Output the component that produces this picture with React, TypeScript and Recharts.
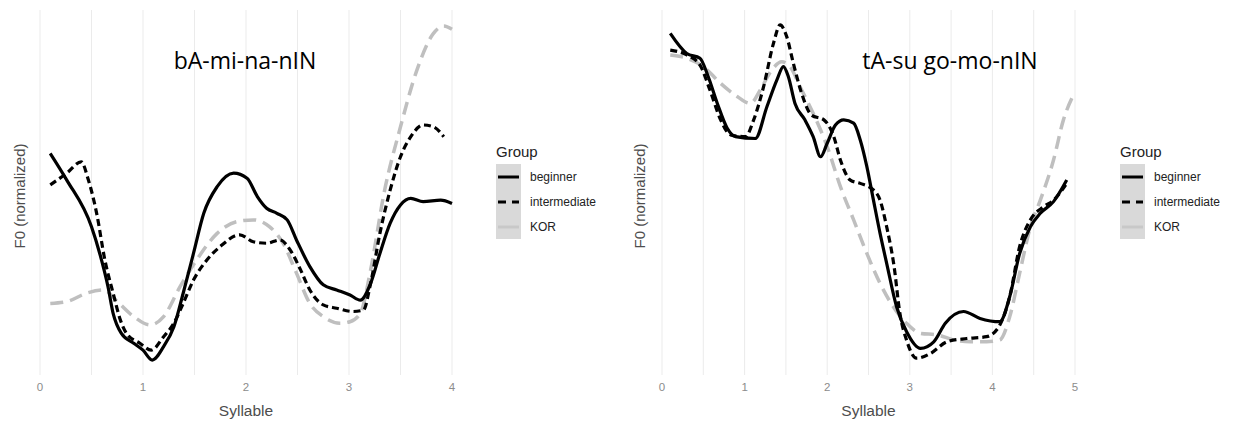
import React from 'react';
import { LineChart, Line, XAxis, YAxis, ReferenceLine } from 'recharts';

// F0 contours: [syllable position, normalized F0 (0-100 of panel height)]
const leftBeginner = [
  [0.1, 60.7], [0.26, 53.4], [0.5, 40.6], [0.58, 33.3], [0.66, 24.2], [0.71, 16.9], [0.79, 11.4],
  [0.91, 8.7], [1.0, 6.8], [1.09, 4.1], [1.2, 7.8], [1.3, 13.2], [1.39, 22.4], [1.49, 33.3],
  [1.59, 44.3], [1.72, 51.6], [1.88, 55.3], [2.01, 53.9], [2.11, 48.9], [2.2, 45.7], [2.3, 44.3],
  [2.4, 42.5], [2.49, 37.0], [2.62, 29.7], [2.75, 24.7], [2.88, 23.3], [3.01, 21.9], [3.11, 20.5],
  [3.21, 25.1], [3.3, 33.3], [3.4, 41.6], [3.5, 46.6], [3.6, 48.4], [3.72, 47.5], [3.89, 47.9], [4.0, 47.0],
];
const leftIntermediate = [
  [0.1, 52.1], [0.26, 55.3], [0.4, 58.4], [0.47, 53.4], [0.55, 44.3], [0.63, 31.5], [0.71, 22.4],
  [0.78, 15.1], [0.84, 11.4], [0.97, 8.7], [1.08, 6.8], [1.2, 10.5], [1.3, 14.2], [1.39, 19.6],
  [1.49, 26.0], [1.62, 31.5], [1.75, 35.2], [1.94, 38.4], [2.07, 36.5], [2.2, 36.1], [2.33, 37.0],
  [2.43, 34.2], [2.53, 28.8], [2.62, 23.3], [2.75, 19.2], [2.88, 18.3], [3.04, 17.4], [3.14, 17.8],
  [3.21, 25.1], [3.3, 38.8], [3.4, 50.7], [3.5, 59.8], [3.6, 65.3], [3.72, 68.5], [3.82, 68.0], [3.92, 65.3],
];
const leftKor = [
  [0.1, 19.6], [0.26, 20.1], [0.45, 22.4], [0.62, 23.3], [0.75, 20.1], [0.91, 16.0], [1.07, 13.7],
  [1.2, 16.0], [1.36, 24.2], [1.52, 31.5], [1.72, 38.8], [1.91, 42.0], [2.07, 42.5], [2.23, 40.6],
  [2.36, 36.1], [2.49, 27.9], [2.62, 19.6], [2.75, 16.0], [2.91, 14.2], [3.01, 14.6], [3.11, 16.9],
  [3.21, 28.8], [3.34, 49.8], [3.5, 68.0], [3.66, 83.6], [3.82, 93.6], [3.92, 95.6], [4.0, 94.7],
];

const rightBeginner = [
  [0.1, 93.6], [0.3, 88.1], [0.46, 86.8], [0.56, 81.7], [0.67, 74.4], [0.79, 67.6], [0.89, 65.3],
  [1.13, 64.8], [1.27, 73.5], [1.39, 80.8], [1.47, 84.5], [1.53, 81.7], [1.61, 74.4], [1.73, 69.9],
  [1.83, 65.3], [1.92, 59.8], [2.0, 63.5], [2.1, 68.5], [2.2, 69.9], [2.32, 69.0], [2.4, 64.4],
  [2.48, 57.1], [2.56, 47.9], [2.64, 38.8], [2.72, 30.6], [2.84, 18.7], [2.96, 11.9], [3.13, 7.3],
  [3.29, 9.1], [3.43, 14.2], [3.65, 17.4], [3.85, 15.5], [4.09, 14.6], [4.21, 21.5], [4.33, 33.3],
  [4.46, 40.6], [4.58, 44.3], [4.74, 47.5], [4.9, 53.4],
];
const rightIntermediate = [
  [0.1, 89.0], [0.3, 87.7], [0.46, 84.9], [0.58, 78.1], [0.71, 69.9], [0.83, 65.8], [1.01, 65.3],
  [1.11, 69.9], [1.23, 79.0], [1.35, 90.9], [1.43, 95.9], [1.51, 92.7], [1.59, 85.4], [1.69, 77.2],
  [1.81, 71.2], [1.96, 69.9], [2.08, 65.3], [2.16, 58.9], [2.28, 53.4], [2.4, 52.5], [2.56, 50.7],
  [2.64, 47.9], [2.72, 40.6], [2.81, 29.7], [2.88, 16.9], [2.96, 9.6], [3.08, 4.6], [3.25, 5.9],
  [3.45, 9.1], [3.69, 10.0], [3.93, 10.5], [4.09, 13.7], [4.21, 21.5], [4.33, 35.2], [4.46, 42.5],
  [4.62, 46.1], [4.74, 47.9], [4.9, 52.5],
];
const rightKor = [
  [0.1, 87.7], [0.3, 86.8], [0.5, 84.5], [0.71, 79.9], [0.91, 76.3], [1.07, 74.4], [1.19, 78.1],
  [1.33, 83.6], [1.45, 85.8], [1.55, 84.5], [1.67, 79.0], [1.83, 71.7], [2.0, 62.6], [2.16, 51.6],
  [2.32, 42.5], [2.48, 33.3], [2.64, 25.1], [2.8, 18.7], [2.96, 14.2], [3.13, 11.4], [3.33, 11.0],
  [3.53, 9.6], [3.73, 9.1], [3.93, 9.1], [4.09, 9.6], [4.21, 16.0], [4.33, 27.9], [4.46, 40.6],
  [4.58, 47.9], [4.74, 58.9], [4.86, 69.9], [4.98, 76.7],
];

const leftTicks = [0, 1, 2, 3, 4];
const rightTicks = [0, 1, 2, 3, 4, 5];
const leftGrid = [0, 0.5, 1, 1.5, 2, 2.5, 3, 3.5, 4];
const rightGrid = [0, 0.5, 1, 1.5, 2, 2.5, 3, 3.5, 4, 4.5, 5];
const groups = ['beginner', 'intermediate', 'KOR'];

const toRows = (pts: number[][]) => pts.map(([s, f0]) => ({ s, f0 }));

const styles: Record<string, { stroke: string; width: number; dash?: string }> = {
  beginner: { stroke: '#000000', width: 3.2 },
  intermediate: { stroke: '#000000', width: 3.2, dash: '7 4' },
  KOR: { stroke: '#bfbfbf', width: 3.5, dash: '13 7' },
};

const font = '"Liberation Sans", Arial, sans-serif';

const Legend = ({ left }: { left: number }) => (
  <div style={{ position: 'absolute', left, top: 143, fontFamily: font }}>
    <div style={{ fontSize: 15, color: '#222', marginBottom: 4 }}>Group</div>
    <div style={{ position: 'relative', height: 76 }}>
      <div style={{ position: 'absolute', left: 0, top: 0, width: 25, height: 75, background: '#d9d9d9' }} />
      {groups.map((g, i) => (
        <div key={g} style={{ position: 'absolute', left: 0, top: 4 + i * 25, height: 18, display: 'flex', alignItems: 'center' }}>
          <svg width={25} height={18}>
            <line x1={2} x2={23} y1={9} y2={9} stroke={g === 'KOR' ? '#c8c8c8' : '#000'} strokeWidth={3}
              strokeDasharray={g === 'intermediate' ? '8 6' : undefined} />
          </svg>
          <span style={{ marginLeft: 9, fontSize: 12, color: '#222', whiteSpace: 'nowrap' }}>{g}</span>
        </div>
      ))}
    </div>
  </div>
);

const Panel = ({ left, width, marginLeft, maxX, ticks, grid, series, title, titleLeft }: any) => (
  <div style={{ position: 'absolute', left, top: 0, width, height: 423 }}>
    <LineChart width={width} height={423} margin={{ top: 10, right: 8, bottom: 0, left: marginLeft }}>
      <XAxis dataKey="s" type="number" domain={[0, maxX]} ticks={ticks} height={48}
        axisLine={false} tickLine={false} tick={{ fill: '#8c8c8c', fontSize: 11.5, fontFamily: font }}
        label={{ value: 'Syllable', position: 'insideBottom', offset: 7, fill: '#4d4d4d', fontSize: 15.5, fontFamily: font }} />
      <YAxis hide domain={[0, 100]} />
      {grid.map((g: number) => (
        <ReferenceLine key={g} x={g} stroke="#ebebeb" strokeWidth={1} />
      ))}
      {['KOR', 'intermediate', 'beginner'].map((g) => (
        <Line key={g} data={toRows(series[g])} dataKey="f0" type="monotone" dot={false} activeDot={false}
          stroke={styles[g].stroke} strokeWidth={styles[g].width} strokeDasharray={styles[g].dash}
          isAnimationActive={false} />
      ))}
    </LineChart>
    <div style={{ position: 'absolute', left: 19, top: 196, transform: 'translate(-50%, -50%) rotate(-90deg)',
      fontFamily: font, fontSize: 15, color: '#4d4d4d', whiteSpace: 'nowrap' }}>F0 (normalized)</div>
    <div style={{ position: 'absolute', left: titleLeft, top: 44, transform: 'translateX(-50%)',
      fontFamily: '"Open Sans", sans-serif', fontSize: 23, color: '#000', whiteSpace: 'nowrap' }}>{title}</div>
  </div>
);

export default function App() {
  return (
    <div style={{ position: 'absolute', left: 0, top: 0, width: 1238, height: 423, background: '#fff', overflow: 'hidden' }}>
      <Panel left={0} width={460} marginLeft={40} maxX={4} ticks={leftTicks} grid={leftGrid}
        series={{ beginner: leftBeginner, intermediate: leftIntermediate, KOR: leftKor }}
        title="bA-mi-na-nIN" titleLeft={245} />
      <Legend left={496} />
      <Panel left={620} width={463} marginLeft={42} maxX={5} ticks={rightTicks} grid={rightGrid}
        series={{ beginner: rightBeginner, intermediate: rightIntermediate, KOR: rightKor }}
        title="tA-su go-mo-nIN" titleLeft={330} />
      <Legend left={1120} />
    </div>
  );
}
